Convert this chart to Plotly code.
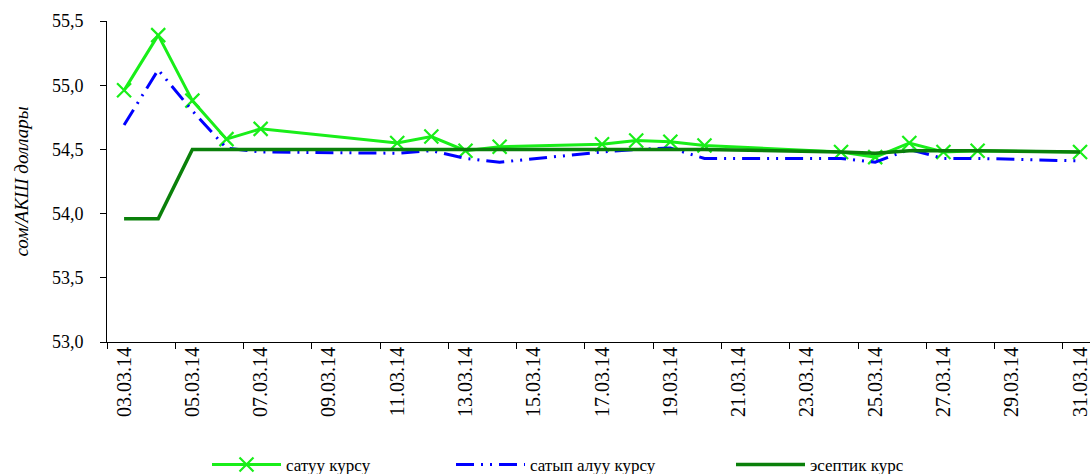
import plotly.graph_objects as go

dates = ["2014-03-03", "2014-03-04", "2014-03-05", "2014-03-06", "2014-03-07",
         "2014-03-11", "2014-03-12", "2014-03-13", "2014-03-14", "2014-03-17",
         "2014-03-18", "2014-03-19", "2014-03-20", "2014-03-24", "2014-03-25",
         "2014-03-26", "2014-03-27", "2014-03-28", "2014-03-31"]
sell_rate = [54.96, 55.39, 54.88, 54.58, 54.66, 54.55, 54.60, 54.49, 54.52, 54.54,
             54.57, 54.56, 54.53, 54.48, 54.44, 54.55, 54.48, 54.49, 54.48]
buy_rate = [54.69, 55.12, 54.80, 54.51, 54.48, 54.47, 54.49, 54.43, 54.40, 54.48,
            54.50, 54.51, 54.43, 54.43, 54.40, 54.50, 54.43, 54.43, 54.41]
official_rate = [53.96, 53.96, 54.50, 54.50, 54.50, 54.50, 54.50, 54.50, 54.50, 54.50,
                 54.50, 54.50, 54.50, 54.48, 54.47, 54.49, 54.49, 54.49, 54.48]
series_names = ["сатуу курсу", "сатып алуу курсу", "эсептик курс"]
y_title = "сом/АКШ доллары"

FONT = "Times New Roman"
DAY = 86400000

fig = go.Figure()
fig.add_trace(go.Scatter(
    x=dates, y=sell_rate, name=series_names[0], mode="lines+markers",
    line=dict(color="#19EE19", width=3),
    marker=dict(symbol="x-thin", size=14, line=dict(color="#19EE19", width=2.2)),
    legend="legend"))
fig.add_trace(go.Scatter(
    x=dates, y=buy_rate, name=series_names[1], mode="lines",
    line=dict(color="#0000FF", width=3, dash="18px,7px,2px,7px,2px,7px"),
    legend="legend2"))
fig.add_trace(go.Scatter(
    x=dates, y=official_rate, name=series_names[2], mode="lines",
    line=dict(color="#0A800A", width=3.5),
    legend="legend3"))
# invisible trace so the label axis is drawn
fig.add_trace(go.Scatter(x=[dates[0]], y=[sell_rate[0]], xaxis="x2", mode="markers",
                         marker=dict(opacity=0), showlegend=False, hoverinfo="skip"))

xrange = ["2014-03-02 12:00", "2014-03-31 07:00"]
legend_common = dict(orientation="h", xref="container", yref="container",
                     yanchor="middle", itemwidth=69,
                     font=dict(family=FONT, size=17, color="#000"),
                     bgcolor="rgba(0,0,0,0)")
leg_y = 1 - 465 / 474

fig.update_layout(
    width=1090, height=474,
    margin=dict(l=107, r=0, t=21, b=132),
    plot_bgcolor="white", paper_bgcolor="white",
    font=dict(family=FONT, color="#000"),
    separators=", ",
    showlegend=True,
    xaxis=dict(
        type="date", range=xrange, automargin=False,
        tick0="2014-03-02 12:00", dtick=2 * DAY,
        showticklabels=False, ticks="outside", ticklen=6, tickcolor="#000",
        showline=True, linecolor="#000", linewidth=1, showgrid=False, zeroline=False),
    xaxis2=dict(
        type="date", range=xrange, overlaying="x", side="bottom", anchor="y",
        automargin=False, ticklabeloverflow="allow",
        tick0="2014-03-03", dtick=2 * DAY, tickformat="%d.%m.%y",
        tickangle=-90, ticks="", showline=False, showgrid=False, zeroline=False,
        tickfont=dict(family=FONT, size=20, color="#000")),
    yaxis=dict(
        range=[53.0, 55.5], dtick=0.5, tick0=53, tickformat=".1f",
        automargin=False, ticklabelstandoff=13,
        ticks="outside", ticklen=6, tickcolor="#000",
        showline=True, linecolor="#000", linewidth=1, showgrid=False, zeroline=False,
        tickfont=dict(family=FONT, size=18, color="#000"),
        title=dict(text=y_title, standoff=18,
                   font=dict(family=FONT, size=19, color="#000", style="italic"))),
    legend=dict(x=207 / 1090, y=leg_y, **legend_common),
    legend2=dict(x=451 / 1090, y=leg_y, **legend_common),
    legend3=dict(x=731 / 1090, y=leg_y, **legend_common),
)

fig.write_html("out.html",
               config={"displayModeBar": False},
               post_script="document.body.style.margin='0';"
                           "document.body.style.overflow='hidden';")
